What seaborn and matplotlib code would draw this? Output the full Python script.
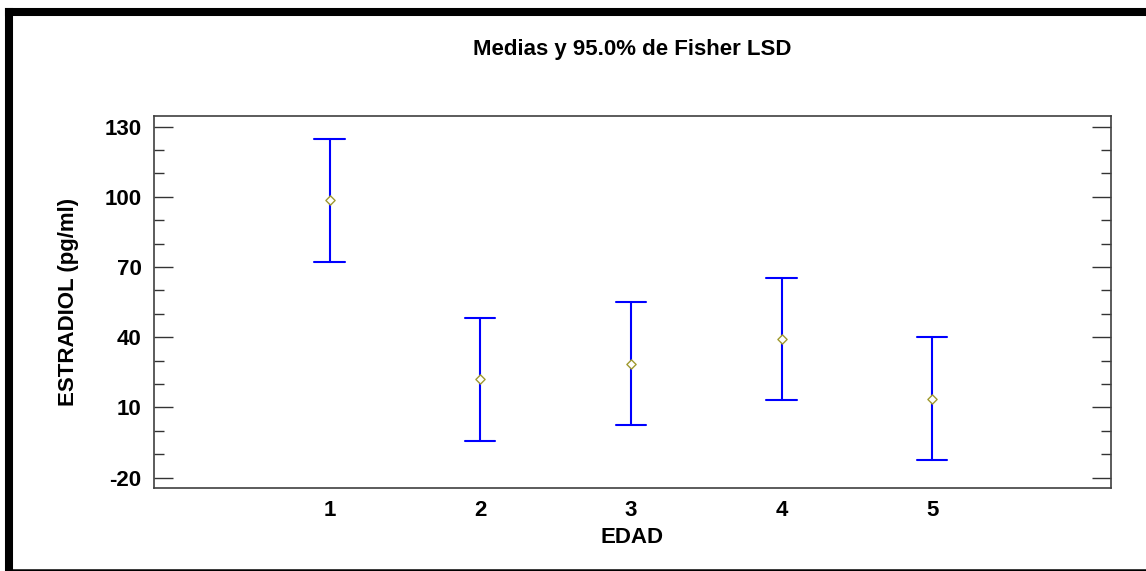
import pandas as pd
import matplotlib.pyplot as plt
import matplotlib.lines as mlines
import seaborn as sns

# Values
edad = [1, 2, 3, 4, 5]
medias = [98.5, 22.1, 28.7, 39.4, 13.6]
limite_inf = [72.2, -4.2, 2.6, 13.3, -12.4]
limite_sup = [124.8, 48.3, 55.0, 65.5, 40.1]

# long table: each group holds lower / mean / upper so median = mean, range = LSD interval
df = pd.DataFrame({
    "EDAD": edad * 3,
    "ESTRADIOL": limite_inf + medias + limite_sup,
})
df_medias = pd.DataFrame({"EDAD": edad, "ESTRADIOL": medias})

sns.set_style("white")
plt.rcParams['font.family'] = ['Liberation Sans', 'DejaVu Sans']
plt.rcParams['font.weight'] = 'bold'
plt.rcParams['axes.unicode_minus'] = False
plt.rcParams['text.color'] = 'black'
plt.rcParams['axes.labelcolor'] = 'black'
plt.rcParams['xtick.labelcolor'] = 'black'
plt.rcParams['ytick.labelcolor'] = 'black'

W, H = 1146, 571
fig = plt.figure(figsize=(W / 100, H / 100), dpi=100)
ax = fig.add_axes([0.1344, 0.1454, 0.8348, 0.6514])

sns.pointplot(
    data=df, x="EDAD", y="ESTRADIOL",
    estimator="median", errorbar=("pi", 100),
    native_scale=True, linestyle="none", marker="",
    color="#0000ff", capsize=0.2,
    err_kws={"linewidth": 1.5, "color": "#0000ff"},
    ax=ax,
)
sns.scatterplot(
    data=df_medias, x="EDAD", y="ESTRADIOL",
    marker="D", s=22, facecolor="white", edgecolor="#a09a30",
    linewidth=1.0, zorder=5, ax=ax,
)

ax.set_xlim(-0.165, 6.185)
ax.set_ylim(-24.4, 134.5)
ax.set_xticks(edad)
ax.set_yticks([-20, 10, 40, 70, 100, 130])
ax.set_yticks(range(-20, 131, 10), minor=True)

ax.tick_params(axis='x', length=0, labelsize=16, pad=9)
ax.tick_params(axis='y', which='major', direction='in', length=13.5, width=1,
               left=True, right=True, labelsize=16, pad=9, color='#333333')
ax.tick_params(axis='y', which='minor', direction='in', length=7, width=1,
               left=True, right=True, color='#333333')
for lbl in ax.get_xticklabels() + ax.get_yticklabels():
    lbl.set_fontweight('bold')

for sp in ax.spines.values():
    sp.set_visible(True)
    sp.set_color('#404040')
    sp.set_linewidth(1.2)

ax.set_title("Medias y 95.0% de Fisher LSD", fontsize=16, fontweight='bold', pad=44)
ax.set_xlabel("EDAD", fontsize=16, fontweight='bold', labelpad=4)
ax.set_ylabel("ESTRADIOL (pg/ml)", fontsize=16, fontweight='bold', labelpad=18)

# thick black frame around the picture (top, left, bottom)
marco = dict(transform=fig.transFigure, color='black', solid_capstyle='projecting')
fig.add_artist(mlines.Line2D([9 / W, 1], [1 - 12 / H, 1 - 12 / H], linewidth=5.8, **marco))
fig.add_artist(mlines.Line2D([9 / W, 9 / W], [0, 1 - 12 / H], linewidth=5.8, **marco))
fig.add_artist(mlines.Line2D([9 / W, 1], [1.2 / H, 1.2 / H], linewidth=1.8, **marco))

fig.savefig("out.png", dpi=100)
